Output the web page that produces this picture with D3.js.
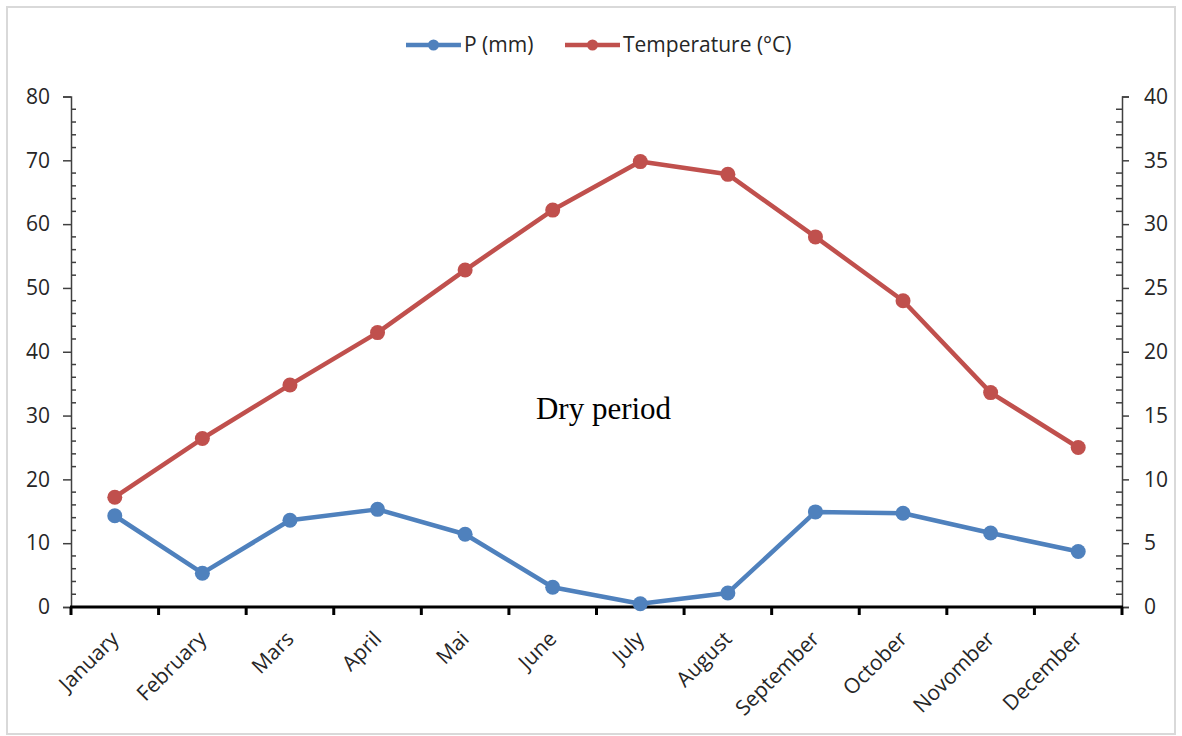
<!DOCTYPE html>
<html>
<head>
<meta charset="utf-8">
<script src="https://cdn.jsdelivr.net/npm/d3@7"></script>
<style>
  html, body { margin: 0; padding: 0; background: #fff; }
  svg { display: block; }
  text { fill: #262626; }
</style>
</head>
<body>
<svg id="chart" width="1182" height="736"></svg>
<script>
// Monthly climate data (ombrothermic diagram)
const months = ["January", "February", "Mars", "April", "Mai", "June", "July",
                "August", "September", "October", "Novomber", "December"];
const precipitation = [14.3, 5.3, 13.6, 15.3, 11.4, 3.1, 0.5, 2.2, 14.9, 14.7, 11.6, 8.7];
const temperature = [8.6, 13.2, 17.4, 21.5, 26.4, 31.1, 34.9, 33.9, 29.0, 24.0, 16.8, 12.5];
const leftTicks = [0, 10, 20, 30, 40, 50, 60, 70, 80];
const rightTicks = [0, 5, 10, 15, 20, 25, 30, 35, 40];
const seriesNames = ["P (mm)", "Temperature (°C)"];
const annotation = "Dry period";

const svg = d3.select("#chart");
const W = 1182, H = 736;
const plot = { left: 71, right: 1122, top: 96.5, bottom: 607 };
const blue = "#4f81bd", red = "#c0504d";
const sans = "'Open Sans', 'Noto Sans', sans-serif";

// outer frame
svg.append("rect")
  .attr("x", 7).attr("y", 7).attr("width", W - 14).attr("height", H - 9)
  .attr("fill", "#fff").attr("stroke", "#d9d9d9").attr("stroke-width", 2);

const x = d3.scaleBand().domain(months).range([plot.left, plot.right]).padding(0);
const cx = m => x(m) + x.bandwidth() / 2;
const yP = d3.scaleLinear().domain([0, 80]).range([plot.bottom, plot.top]);
const yT = d3.scaleLinear().domain([0, 40]).range([plot.bottom, plot.top]);

// left axis: major ticks outside, minor ticks inside
const leftAxis = d3.axisLeft(yP).tickValues(leftTicks).tickSize(8).tickPadding(13);
const gL = svg.append("g").attr("transform", `translate(${plot.left},0)`).call(leftAxis);
gL.select(".domain").attr("stroke", "#404040").attr("stroke-width", 1.5);
gL.selectAll(".tick line").attr("stroke", "#404040").attr("stroke-width", 1.5);
gL.selectAll(".tick text").style("font-size", "21px").style("fill", "#262626")
  .style("font-family", sans);
const minorL = d3.range(0, 81, 2).filter(v => v % 10 !== 0);
gL.selectAll(".minor").data(minorL).join("line").attr("class", "minor")
  .attr("x1", 0).attr("x2", 5).attr("y1", d => yP(d)).attr("y2", d => yP(d))
  .attr("stroke", "#404040").attr("stroke-width", 1.5);

// right axis
const rightAxis = d3.axisRight(yT).tickValues(rightTicks).tickSize(7).tickPadding(15);
const gR = svg.append("g").attr("transform", `translate(${plot.right},0)`).call(rightAxis);
gR.select(".domain").attr("stroke", "#404040").attr("stroke-width", 1.5);
gR.selectAll(".tick line").attr("stroke", "#404040").attr("stroke-width", 1.5);
gR.selectAll(".tick text").style("font-size", "21px").style("fill", "#262626")
  .style("font-family", sans);
const minorR = d3.range(0, 41, 1).filter(v => v % 5 !== 0);
gR.selectAll(".minor").data(minorR).join("line").attr("class", "minor")
  .attr("x1", 0).attr("x2", -6).attr("y1", d => yT(d)).attr("y2", d => yT(d))
  .attr("stroke", "#404040").attr("stroke-width", 1.5);

// category axis
const gX = svg.append("g");
gX.selectAll(".xtick").data(d3.range(months.length + 1)).join("line").attr("class", "xtick")
  .attr("x1", i => plot.left + i * x.bandwidth()).attr("x2", i => plot.left + i * x.bandwidth())
  .attr("y1", plot.bottom).attr("y2", plot.bottom + 8)
  .attr("stroke", "#000").attr("stroke-width", 3);
gX.append("line")
  .attr("x1", plot.left - 1).attr("x2", plot.right + 1)
  .attr("y1", plot.bottom).attr("y2", plot.bottom)
  .attr("stroke", "#000").attr("stroke-width", 3);
gX.selectAll(".xlabel").data(months).join("text").attr("class", "xlabel")
  .attr("transform", m => `translate(${cx(m)},${plot.bottom + 28}) rotate(-45)`)
  .attr("text-anchor", "end").attr("dy", "0.35em")
  .style("font-size", "21px").style("font-family", sans)
  .text(m => m);

// series lines and markers
function drawSeries(values, scale, color) {
  const line = d3.line().x((d, i) => cx(months[i])).y(d => scale(d));
  svg.append("path").datum(values)
    .attr("d", line).attr("fill", "none").attr("stroke", color)
    .attr("stroke-width", 4.5).attr("stroke-linejoin", "round");
  svg.append("g").selectAll("circle").data(values).join("circle")
    .attr("cx", (d, i) => cx(months[i])).attr("cy", d => scale(d))
    .attr("r", 7.5).attr("fill", color);
}
drawSeries(precipitation, yP, blue);
drawSeries(temperature, yT, red);

// annotation
svg.append("text")
  .attr("x", 603.5).attr("y", 419).attr("text-anchor", "middle")
  .style("font-family", "'Liberation Serif', 'Times New Roman', serif")
  .style("font-size", "31px").style("fill", "#000")
  .text(annotation);

// legend
const legend = [
  { name: seriesNames[0], color: blue, x: 406 },
  { name: seriesNames[1], color: red, x: 565 }
];
const lg = svg.append("g");
legend.forEach(it => {
  const g = lg.append("g").attr("transform", `translate(${it.x},45)`);
  g.append("line").attr("x1", 0).attr("x2", 55).attr("y1", 0).attr("y2", 0)
    .attr("stroke", it.color).attr("stroke-width", 4.5);
  g.append("circle").attr("cx", 27.5).attr("cy", 0).attr("r", 5.5).attr("fill", it.color);
  g.append("text").attr("x", 58).attr("y", 0).attr("dy", "0.35em")
    .style("font-size", "21px").style("font-family", sans).text(it.name);
});
</script>
</body>
</html>
